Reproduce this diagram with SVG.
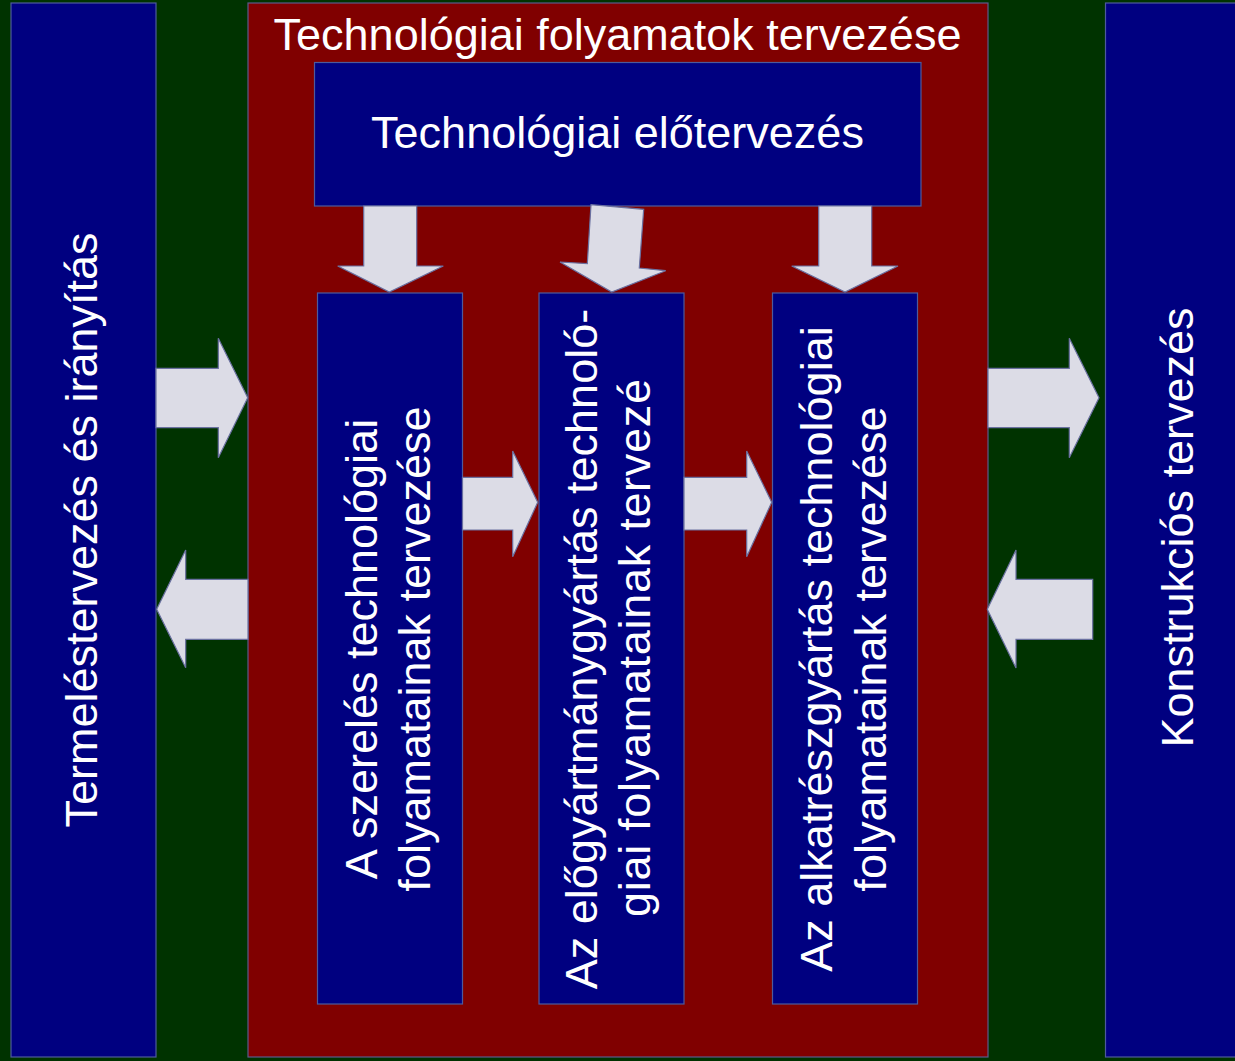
<svg xmlns="http://www.w3.org/2000/svg" width="1235" height="1061" viewBox="0 0 1235 1061">
<style>
.bg{fill:#003300}
.blue{fill:#000080;stroke:#4d5a9c;stroke-width:1.2}
.red{fill:#800000;stroke:#5a5a8a;stroke-width:1.2}
.arr{fill:#dcdce6;stroke:#6a70a0;stroke-width:1.2;stroke-linejoin:miter}
text{font-family:"Liberation Sans",Arial,sans-serif;font-size:45px;fill:#ffffff}
</style>
<rect class="bg" x="0" y="0" width="1235" height="1061"/>
<g id="node-termeles">
<rect class="blue" x="11" y="3" width="145" height="1054"/>
<text transform="translate(96.5,530) rotate(-90)" text-anchor="middle">Termeléstervezés és irányítás</text>
</g>
<g id="node-konstrukcio">
<rect class="blue" x="1105.5" y="3" width="140" height="1054"/>
<text transform="translate(1193,527.5) rotate(-90)" text-anchor="middle">Konstrukciós tervezés</text>
</g>
<g id="node-technologiai">
<rect class="red" x="248" y="3" width="740" height="1054"/>
<text x="617.5" y="50" text-anchor="middle">Technológiai folyamatok tervezése</text>
</g>
<g id="node-eloterv">
<rect class="blue" x="314.5" y="62.5" width="606.5" height="143.5"/>
<text x="617.5" y="148.3" text-anchor="middle">Technológiai előtervezés</text>
</g>
<g id="node-szereles">
<rect class="blue" x="317.5" y="293" width="145" height="711"/>
<text transform="translate(376.7,649) rotate(-90)" text-anchor="middle">A szerelés technológiai</text>
<text transform="translate(430,649) rotate(-90)" text-anchor="middle">folyamatainak tervezése</text>
</g>
<g id="node-elogyartmany">
<rect class="blue" x="539" y="293" width="145" height="711"/>
<text transform="translate(596.7,649) rotate(-90)" text-anchor="middle">Az előgyártmánygyártás technoló-</text>
<text transform="translate(650,648) rotate(-90)" text-anchor="middle" textLength="538" lengthAdjust="spacing">giai folyamatainak tervezé</text>
</g>
<g id="node-alkatresz">
<rect class="blue" x="772.5" y="293" width="145" height="711"/>
<text transform="translate(831.7,649) rotate(-90)" text-anchor="middle">Az alkatrészgyártás technológiai</text>
<text transform="translate(886,649) rotate(-90)" text-anchor="middle">folyamatainak tervezése</text>
</g>
<g id="connectors">
<polygon class="arr" points="363.7,206 416.7,206 416.7,266 443.3,266 389.3,292 337.7,266 363.7,266"/>
<polygon class="arr" points="591,204.7 643.7,209.3 639.3,268 665.7,270.7 611.7,292 560,262 587.3,263.7"/>
<polygon class="arr" points="818.7,206 871.7,206 871.7,266 898,266 845,292 791.7,266 818.7,266"/>
<polygon class="arr" points="156,368.3 218.3,368.3 218.3,338.3 247.7,397.7 218.3,457.7 218.3,427.7 156,427.7"/>
<polygon class="arr" points="248,579.3 185.7,579.3 185.7,550 156.7,609.3 185.7,667.7 185.7,639.3 248,639.3"/>
<polygon class="arr" points="988,368.3 1069.3,368.3 1069.3,338.3 1099,397.7 1069.3,457.7 1069.3,427.7 988,427.7"/>
<polygon class="arr" points="1092.7,579.3 1016,579.3 1016,550 987.3,609.3 1016,668 1016,639.3 1092.7,639.3"/>
<polygon class="arr" points="462.5,477.3 512.7,477.3 512.7,451 537.7,502.3 512.7,556.7 512.7,530 462.5,530"/>
<polygon class="arr" points="684,477.3 746.7,477.3 746.7,451 771.7,502.3 746.7,556.7 746.7,530 684,530"/>
</g>
</svg>
